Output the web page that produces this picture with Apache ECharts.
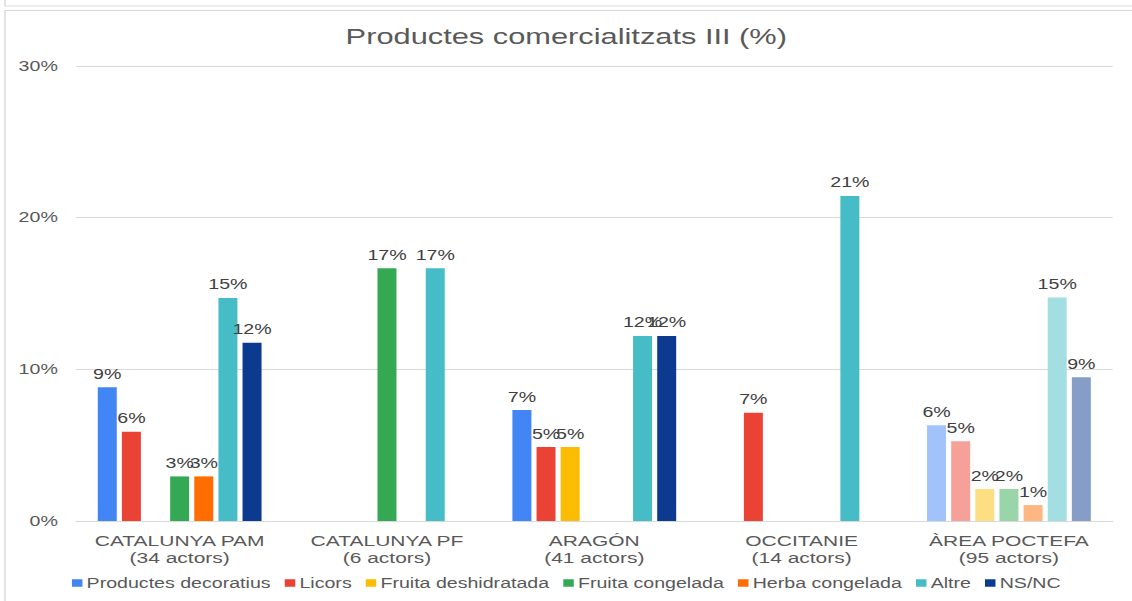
<!DOCTYPE html>
<html>
<head>
<meta charset="utf-8">
<script src="https://cdn.jsdelivr.net/npm/echarts@6/dist/echarts.min.js"></script>
<style>
html,body{margin:0;padding:0;background:#fff;overflow:hidden;}
#chart{width:808.57px;height:601px;transform:scaleX(1.4);transform-origin:0 0;}
</style>
</head>
<body>
<div id="chart"></div>
<script>
const title = 'Productes comercialitzats III (%)';
const categories = ['CATALUNYA PAM\n(34 actors)', 'CATALUNYA PF\n(6 actors)', 'ARAGÓN\n(41 actors)', 'OCCITANIE\n(14 actors)', 'ÀREA POCTEFA\n(95 actors)'];
const seriesNames = ['Productes decoratius', 'Licors', 'Fruita deshidratada', 'Fruita congelada', 'Herba congelada', 'Altre', 'NS/NC'];
const seriesColors = ['#4285F4', '#EA4335', '#FBBC04', '#34A853', '#FF6D01', '#46BDC6', '#0B3A8F'];
const productesDecoratius = [8.82, null, 7.32, null, 6.32];
const licors = [5.88, null, 4.88, 7.14, 5.26];
const fruitaDeshidratada = [null, null, 4.88, null, 2.11];
const fruitaCongelada = [2.94, 16.67, null, null, 2.11];
const herbaCongelada = [2.94, null, null, null, 1.05];
const altre = [14.71, 16.67, 12.20, 21.43, 14.74];
const nsnc = [11.76, null, 12.20, null, 9.47];
const yTicks = [0, 10, 20, 30];

const allData = [productesDecoratius, licors, fruitaDeshidratada, fruitaCongelada, herbaCongelada, altre, nsnc];
const totalIndex = 4;
const SX = 1.4; // horizontal stretch of the reference picture

function lighten(hex) {
  const n = parseInt(hex.slice(1), 16);
  const c = [(n >> 16) & 255, (n >> 8) & 255, n & 255].map(v => Math.round((v + 255) / 2));
  return 'rgb(' + c.join(',') + ')';
}

const chart = echarts.init(document.getElementById('chart'), null, { renderer: 'svg' });
const font = 'Liberation Sans, Arial, sans-serif';

const series = allData.map((arr, si) => ({
  name: seriesNames[si],
  type: 'bar',
  barWidth: 19 / SX,
  barGap: '27%',
  itemStyle: { color: seriesColors[si] },
  data: arr.map((v, i) => v == null ? null : (i === totalIndex ? { value: v, itemStyle: { color: lighten(seriesColors[si]) } } : v)),
  label: {
    show: true,
    position: 'top',
    distance: 6,
    color: '#404040',
    fontSize: 14,
    fontFamily: font,
    formatter: p => Math.round(p.value) + '%'
  },
  labelLayout: { hideOverlap: false }
}));

chart.setOption({
  animation: false,
  backgroundColor: '#fff',
  color: seriesColors,
  title: {
    text: title,
    left: 'center',
    top: 21,
    textStyle: { fontSize: 22, fontWeight: 'normal', color: '#595959', fontFamily: font }
  },
  legend: {
    bottom: 6,
    left: 'center',
    itemWidth: 7.5,
    itemHeight: 7.5,
    itemGap: 10,
    icon: 'rect',
    textStyle: { fontSize: 14, color: '#595959', fontFamily: font, padding: [0, 0, 0, -2] },
    data: seriesNames
  },
  grid: { left: 76 / SX, right: 20 / SX, top: 66, bottom: 80, containLabel: false },
  xAxis: {
    type: 'category',
    data: categories,
    axisLine: { lineStyle: { color: '#d9d9d9' } },
    axisTick: { show: false },
    axisLabel: { interval: 0, hideOverlap: false, fontSize: 15, color: '#595959', fontFamily: font, lineHeight: 17, margin: 11 }
  },
  yAxis: {
    type: 'value',
    min: yTicks[0],
    max: yTicks[yTicks.length - 1],
    interval: 10,
    axisLine: { show: false },
    axisTick: { show: false },
    axisLabel: { fontSize: 14, color: '#595959', fontFamily: font, margin: 13, formatter: v => v + '%' },
    splitLine: { lineStyle: { color: '#d9d9d9' } }
  },
  graphic: [
    { type: 'rect', shape: { x: 5 / SX, y: -20, width: 1200, height: 26 }, style: { fill: 'none', stroke: '#d9d9d9', lineWidth: 1 } },
    { type: 'rect', shape: { x: 5 / SX, y: 10.5, width: 1200, height: 700 }, style: { fill: 'none', stroke: '#d9d9d9', lineWidth: 1 } }
  ],
  series: series
});
</script>
</body>
</html>
